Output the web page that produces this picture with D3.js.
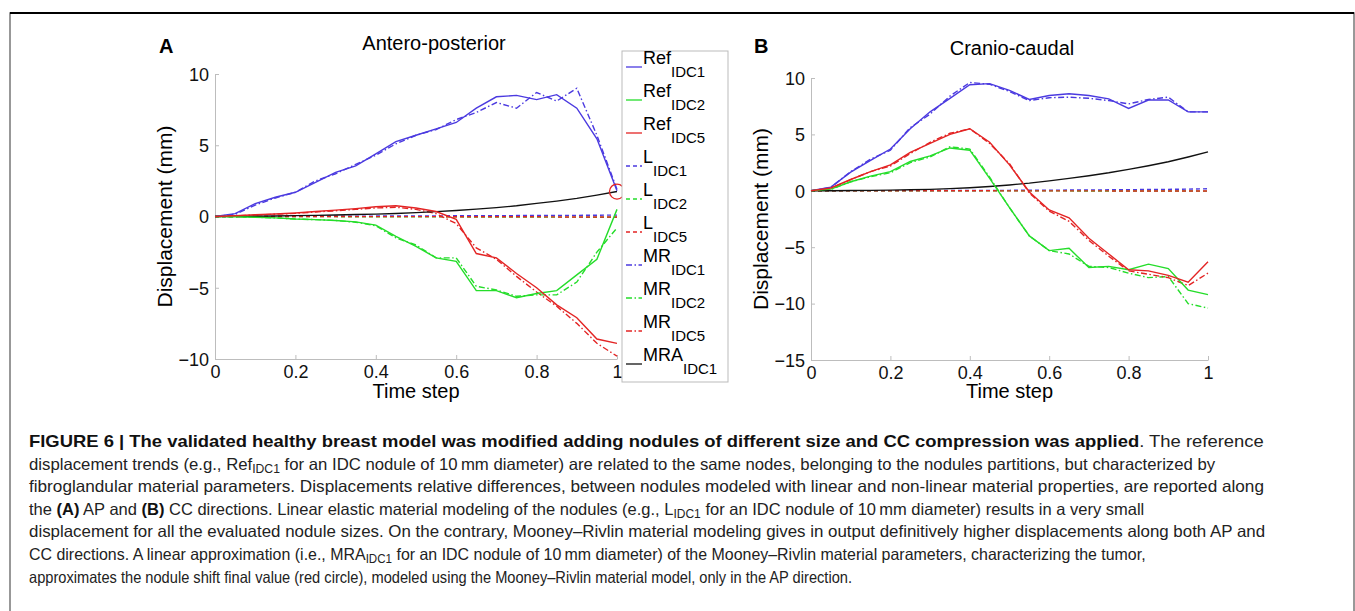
<!DOCTYPE html>
<html>
<head>
<meta charset="utf-8">
<script src="https://cdn.jsdelivr.net/npm/d3@7"></script>
<style>
body { margin: 0; background: #fff; }
svg { font-family: "Liberation Sans", Arial, Helvetica, sans-serif; }
.axis path, .axis line { stroke: #bdbdbd; }
.axis text { font-size: 18px; fill: #111; }
</style>
</head>
<body>
<svg id="fig" width="1355" height="611"></svg>
<script>
// time steps 0..1 every 0.05
var steps = [0,0.05,0.1,0.15,0.2,0.25,0.3,0.35,0.4,0.45,0.5,0.55,0.6,0.65,0.7,0.75,0.8,0.85,0.9,0.95,1];

// panel A, antero-posterior
var apRef1 = [0,0.2,0.9,1.35,1.7,2.4,3.1,3.55,4.4,5.25,5.7,6.15,6.6,7.6,8.4,8.5,8.2,8.55,7.6,5.45,1.8];
var apRef2 = [0,-0.02,-0.05,-0.1,-0.18,-0.22,-0.28,-0.38,-0.6,-1.4,-2.1,-2.9,-3.15,-5.2,-5.2,-5.7,-5.4,-5.2,-4.1,-3.0,0.5];
var apRef5 = [0,0.05,0.12,0.18,0.25,0.35,0.45,0.55,0.68,0.75,0.6,0.35,-0.2,-2.6,-2.9,-4.0,-5.0,-6.2,-7.1,-8.6,-8.9];
var apL1 = [0,0.003,0.006,0.01,0.013,0.017,0.02,0.025,0.03,0.035,0.04,0.045,0.05,0.055,0.06,0.065,0.07,0.075,0.08,0.09,0.1];
var apL2 = [0,-0.002,-0.004,-0.006,-0.008,-0.01,-0.012,-0.015,-0.018,-0.02,-0.023,-0.026,-0.029,-0.032,-0.035,-0.038,-0.04,-0.043,-0.046,-0.05,-0.05];
var apL5 = [0,0,0,0,0,0,0,-0.01,-0.01,-0.01,-0.01,-0.01,-0.02,-0.02,-0.02,-0.02,-0.02,-0.03,-0.03,-0.03,-0.03];
var apMR1 = [0,0.15,0.8,1.3,1.7,2.5,3.0,3.65,4.3,5.1,5.7,6.1,6.8,7.3,8.0,7.6,8.7,8.1,9.0,5.7,1.9];
var apMR2 = [0,-0.02,-0.05,-0.1,-0.18,-0.22,-0.28,-0.4,-0.65,-1.5,-2.0,-2.9,-2.9,-4.9,-5.15,-5.6,-5.5,-5.5,-4.6,-2.5,-0.8];
var apMR5 = [0,0.05,0.1,0.16,0.22,0.32,0.4,0.5,0.6,0.65,0.5,0.2,-0.5,-2.2,-3.0,-4.2,-5.3,-6.3,-7.5,-8.9,-9.8];
var apMRA1 = [0,0.01,0.02,0.04,0.06,0.08,0.11,0.14,0.17,0.21,0.27,0.34,0.42,0.52,0.62,0.75,0.92,1.08,1.27,1.5,1.75];

// panel B, cranio-caudal
var ccRef1 = [0,0.33,1.65,2.7,3.7,5.5,7.0,8.2,9.4,9.5,8.9,8.1,8.45,8.6,8.45,8.15,7.3,8.05,8.05,7.0,7.0];
var ccRef2 = [0,0.15,0.8,1.3,1.7,2.6,3.1,3.8,3.6,1.1,-1.5,-4.0,-5.3,-5.1,-6.8,-6.7,-7.0,-6.5,-6.9,-8.8,-9.2];
var ccRef5 = [0,0.25,1.0,1.7,2.3,3.4,4.2,5.0,5.5,4.3,2.3,-0.1,-1.7,-2.4,-4.2,-5.6,-7.0,-7.1,-7.5,-8.1,-6.3];
var ccL1 = [0,0.002,0.005,0.008,0.012,0.016,0.02,0.025,0.03,0.036,0.042,0.05,0.058,0.067,0.077,0.088,0.1,0.115,0.13,0.15,0.18];
var ccL2 = [0,0,0,0,0,0,0,0,-0.01,-0.01,-0.01,-0.01,-0.01,-0.01,-0.02,-0.02,-0.02,-0.02,-0.02,-0.02,-0.03];
var ccL5 = [0,0,0,0,0,0,0,0,0,0,-0.01,-0.01,-0.01,-0.01,-0.01,-0.01,-0.02,-0.02,-0.02,-0.02,-0.02];
var ccMR1 = [0,0.3,1.7,2.8,3.6,5.6,6.8,8.4,9.6,9.45,8.8,8.0,8.25,8.3,8.2,8.0,7.7,8.1,8.3,7.0,7.0];
var ccMR2 = [0,0.12,0.8,1.25,1.6,2.5,3.0,3.9,3.7,1.2,-1.5,-4.0,-5.3,-5.6,-6.7,-6.8,-7.3,-7.7,-7.6,-10.0,-10.4];
var ccMR5 = [0,0.2,1.0,1.7,2.2,3.3,4.3,5.1,5.5,4.2,2.4,-0.2,-1.8,-2.7,-4.4,-5.8,-7.1,-7.4,-7.7,-8.4,-7.3];
var ccMRA1 = [0,0.01,0.02,0.04,0.06,0.09,0.13,0.19,0.27,0.38,0.52,0.68,0.88,1.1,1.34,1.6,1.9,2.22,2.58,3.0,3.45];

var xTicks = [0,0.2,0.4,0.6,0.8,1];
var apTicks = [-10,-5,0,5,10];
var ccTicks = [-15,-10,-5,0,5,10];

var legendNames = [["Ref","IDC1"],["Ref","IDC2"],["Ref","IDC5"],["L","IDC1"],["L","IDC2"],["L","IDC5"],["MR","IDC1"],["MR","IDC2"],["MR","IDC5"],["MRA","IDC1"]];

var blue = "#4b3ae0", green = "#25dd2a", red = "#e32424", black = "#111";
var dashL = "4,3", dashMR = "6,2.5,1.5,2.5";

var svg = d3.select("#fig");

// figure frame
svg.append("rect").attr("x", 10).attr("y", 13).attr("width", 1344).attr("height", 620)
    .attr("fill", "none").attr("stroke", "#777").attr("stroke-width", 1.5);
svg.append("line").attr("x1", 10).attr("x2", 1354).attr("y1", 13).attr("y2", 13)
    .attr("stroke", "#000").attr("stroke-width", 2);

function panel(opt){
    var x = d3.scaleLinear().domain([0, 1]).range([opt.x0, opt.x1]);
    var y = d3.scaleLinear().domain(opt.ydom).range([opt.y1, opt.y0]);

    var g = svg.append("g");

    g.append("g").attr("class", "axis")
        .attr("transform", "translate(0," + opt.y1 + ")")
        .call(d3.axisBottom(x).tickValues(xTicks).tickSizeInner(-4).tickSizeOuter(0)
            .tickFormat(function(d){ return d === 0 ? "0" : d3.format("~g")(d); }))
        .selectAll("text").attr("dy", "0.95em").attr("y", 2);

    g.append("g").attr("class", "axis")
        .attr("transform", "translate(" + opt.x0 + ",0)")
        .call(d3.axisLeft(y).tickValues(opt.yticks).tickSizeInner(-4).tickSizeOuter(0)
            .tickFormat(function(d){ return d < 0 ? "\u2212" + Math.abs(d) : d; }))
        .selectAll("text").attr("x", -6).attr("dy", "0.35em");

    g.selectAll(".domain").attr("stroke", "#bdbdbd");

    var line = d3.line().x(function(d, i){ return x(steps[i]); }).y(function(d){ return y(d); });

    opt.series.forEach(function(s){
        g.append("path").attr("d", line(s.v)).attr("fill", "none")
            .attr("stroke", s.c).attr("stroke-width", 1.4)
            .attr("stroke-dasharray", s.dash || null);
    });

    g.append("text").attr("x", opt.titleX).attr("y", opt.titleY).attr("text-anchor", "middle")
        .style("font-size", "20px").text(opt.title);
    g.append("text").attr("x", opt.letterX).attr("y", 53).style("font-size", "20px")
        .style("font-weight", "bold").text(opt.letter);
    g.append("text").attr("x", (opt.x0 + opt.x1) / 2).attr("y", 398).attr("text-anchor", "middle")
        .style("font-size", "20px").text("Time step");
    g.append("text").attr("transform", "translate(" + opt.ylabX + "," + ((opt.y0 + opt.y1) / 2) + ") rotate(-90)")
        .attr("text-anchor", "middle").style("font-size", "21px").text("Displacement (mm)");

    return {x: x, y: y, g: g};
}

function seriesList(r1, r2, r5, l1, l2, l5, m1, m2, m5, mra){
    return [
        {v: l1, c: blue, dash: dashL}, {v: l2, c: green, dash: dashL}, {v: l5, c: red, dash: dashL},
        {v: m1, c: blue, dash: dashMR}, {v: m2, c: green, dash: dashMR}, {v: m5, c: red, dash: dashMR},
        {v: mra, c: black},
        {v: r1, c: blue}, {v: r2, c: green}, {v: r5, c: red}
    ];
}

var pA = panel({x0: 215, x1: 617, y0: 74, y1: 359, ydom: [-10, 10], yticks: apTicks,
    title: "Antero-posterior", titleX: 434, titleY: 50, letter: "A", letterX: 159, ylabX: 172,
    series: seriesList(apRef1, apRef2, apRef5, apL1, apL2, apL5, apMR1, apMR2, apMR5, apMRA1)});

var pB = panel({x0: 811, x1: 1208, y0: 78, y1: 360, ydom: [-15, 10], yticks: ccTicks,
    title: "Cranio-caudal", titleX: 1012, titleY: 55, letter: "B", letterX: 754, ylabX: 768,
    series: seriesList(ccRef1, ccRef2, ccRef5, ccL1, ccL2, ccL5, ccMR1, ccMR2, ccMR5, ccMRA1)});

// red circle at the final value of the AP reference
pA.g.append("circle").attr("cx", pA.x(1)).attr("cy", pA.y(apMRA1[apMRA1.length - 1]))
    .attr("r", 7.5).attr("fill", "none").attr("stroke", red).attr("stroke-width", 1.3);

// legend
var legColors = [blue, green, red, blue, green, red, blue, green, red, black];
var legDash = [null, null, null, dashL, dashL, dashL, dashMR, dashMR, dashMR, null];
var leg = svg.append("g");
leg.append("rect").attr("x", 622).attr("y", 51).attr("width", 106).attr("height", 331)
    .attr("fill", "#fff").attr("stroke", "#bbb");
legendNames.forEach(function(n, i){
    var ly = 67 + i * 33;
    leg.append("line").attr("x1", 626).attr("x2", 642).attr("y1", ly).attr("y2", ly)
        .attr("stroke", legColors[i]).attr("stroke-width", 1.3).attr("stroke-dasharray", legDash[i]);
    var t = leg.append("text").attr("x", 643).attr("y", ly - 3).style("font-size", "18px");
    t.append("tspan").text(n[0]);
    t.append("tspan").attr("dy", 12.5).style("font-size", "15px").text(n[1]);
});

// caption
var capLines = [
    [["b", "FIGURE 6 | The validated healthy breast model was modified adding nodules of different size and CC compression was applied"], ["", ". The reference"]],
    [["", "displacement trends (e.g., Ref"], ["s", "IDC1"], ["", " for an IDC nodule of 10\u2009mm diameter) are related to the same nodes, belonging to the nodules partitions, but characterized by"]],
    [["", "fibroglandular material parameters. Displacements relative differences, between nodules modeled with linear and non-linear material properties, are reported along"]],
    [["", "the "], ["b", "(A)"], ["", " AP and "], ["b", "(B)"], ["", " CC directions. Linear elastic material modeling of the nodules (e.g., L"], ["s", "IDC1"], ["", " for an IDC nodule of 10\u2009mm diameter) results in a very small"]],
    [["", "displacement for all the evaluated nodule sizes. On the contrary, Mooney\u2013Rivlin material modeling gives in output definitively higher displacements along both AP and"]],
    [["", "CC directions. A linear approximation (i.e., MRA"], ["s", "IDC1"], ["", " for an IDC nodule of 10\u2009mm diameter) of the Mooney\u2013Rivlin material parameters, characterizing the tumor,"]],
    [["", "approximates the nodule shift final value (red circle), modeled using the Mooney\u2013Rivlin material model, only in the AP direction."]]
];
// width factor for each caption line, to follow the reference's line lengths
var capStretch = [1.116, 1.014, 1.04, 1.0, 1.023, 0.966, 0.887];
var cap = svg.append("g");
capLines.forEach(function(segs, i){
    var t = cap.append("text").attr("x", 29).attr("y", 447 + i * 22.6).style("font-size", "16.5px").attr("fill", "#222");
    var dySum = 0;
    segs.forEach(function(s){
        var sp = t.append("tspan").text(s[1]);
        if (s[0] === "b") sp.style("font-weight", "bold").attr("fill", "#111");
        if (s[0] === "s") { sp.style("font-size", "12px").attr("dy", 3); dySum = 3; }
        else { sp.attr("dy", -dySum); dySum = 0; }
    });
    var w = t.node().getComputedTextLength();
    t.attr("textLength", w * capStretch[i]).attr("lengthAdjust", "spacingAndGlyphs");
});
</script>
</body>
</html>
